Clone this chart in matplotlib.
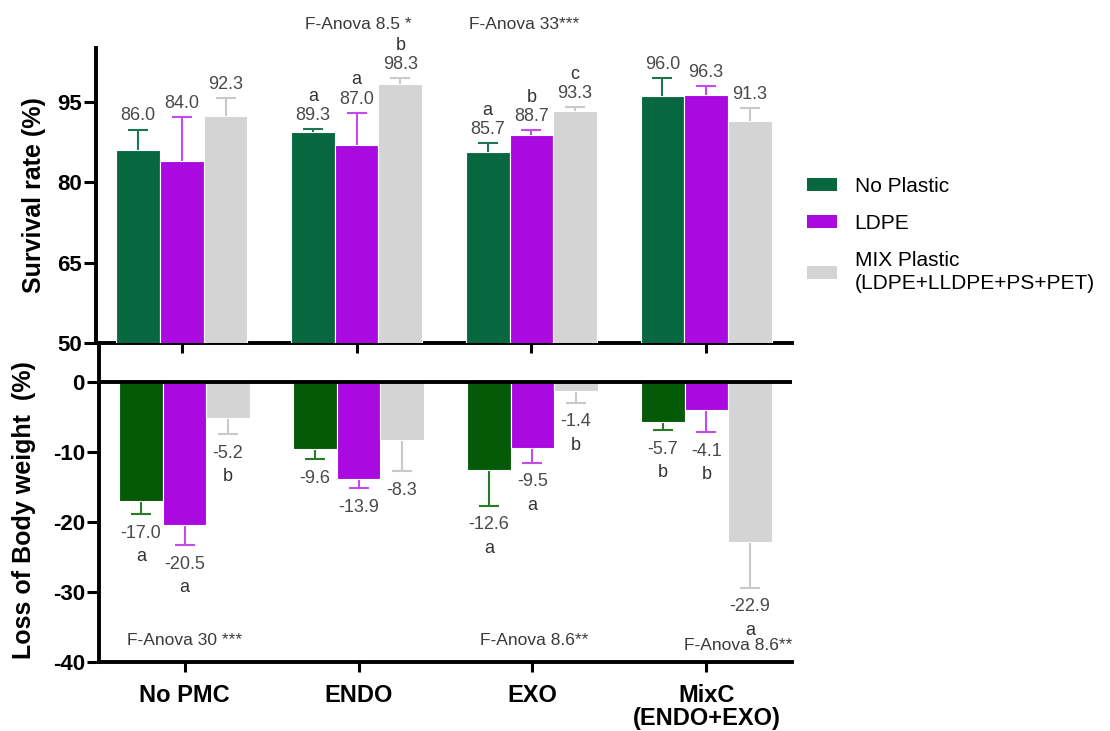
import numpy as np
import matplotlib
matplotlib.use("Agg")
import matplotlib.pyplot as plt
from matplotlib.patches import Patch

plt.rcParams['font.family'] = ['Liberation Sans', 'DejaVu Sans']
plt.rcParams['axes.unicode_minus'] = False

# ---- data -------------------------------------------------------------
categories = ['No PMC', 'ENDO', 'EXO', 'MixC\n(ENDO+EXO)']
series_names = ['No Plastic', 'LDPE', 'MIX Plastic\n(LDPE+LLDPE+PS+PET)']

survival_no_plastic = [86.0, 89.3, 85.7, 96.0]
survival_ldpe = [84.0, 87.0, 88.7, 96.3]
survival_mix = [92.3, 98.3, 93.3, 91.3]
survival_err_no_plastic = [3.8, 0.6, 1.5, 3.4]
survival_err_ldpe = [8.1, 5.9, 1.0, 1.6]
survival_err_mix = [3.4, 1.1, 0.7, 2.5]
survival_letters_no_plastic = ['', 'a', 'a', '']
survival_letters_ldpe = ['', 'a', 'b', '']
survival_letters_mix = ['', 'b', 'c', '']

weight_no_plastic = [-17.0, -9.6, -12.6, -5.7]
weight_ldpe = [-20.5, -13.9, -9.5, -4.1]
weight_mix = [-5.2, -8.3, -1.4, -22.9]
weight_err_no_plastic = [1.9, 1.5, 5.1, 1.2]
weight_err_ldpe = [2.8, 1.3, 2.1, 3.1]
weight_err_mix = [2.3, 4.5, 1.6, 6.5]
weight_letters_no_plastic = ['a', '', 'a', 'b']
weight_letters_ldpe = ['a', '', 'a', 'b']
weight_letters_mix = ['b', '', 'b', 'a']

survival_anova_pos = [1.01, 1.96]
survival_anova_y = [109.4, 109.4]
survival_anova_text = ['F-Anova 8.5 *', 'F-Anova 33***']
weight_anova_pos = [0.0, 2.01, 3.18]
weight_anova_y = [-36.9, -36.9, -37.6]
weight_anova_text = ['F-Anova 30 ***', 'F-Anova 8.6**', 'F-Anova 8.6**']

# ---- styling ----------------------------------------------------------
top_colors = ['#07683F', '#AA0AE0', '#D4D4D4']
bot_colors = ['#045A06', '#AA0AE0', '#D4D4D4']
top_err_colors = ['#1E7552', '#C24CF0', '#C9C9C9']
bot_err_colors = ['#2A7A2A', '#C24CF0', '#C9C9C9']
label_color = '#4A4A4A'
letter_color = '#333333'
W, H = 1110, 731


def fx(px):
    return px / W


def fy(py):
    return 1 - py / H


fig = plt.figure(figsize=(W / 100, H / 100), dpi=100)
ax_top = fig.add_axes([fx(96), fy(343), fx(792) - fx(96), fy(48) - fy(343)])
ax_bot = fig.add_axes([fx(99), fy(662), fx(792) - fx(99), fy(343) - fy(662)])

x = np.arange(len(categories))
width = 0.25
offsets = [-width, 0.0, width]


def draw_panel(ax, values, errs, letters, colors, ecolors, upward):
    for k, (vals, err, lets) in enumerate(zip(values, errs, letters)):
        xs = x + offsets[k]
        vals = np.array(vals)
        err = np.array(err)
        ax.bar(xs, vals, width=width, color=colors[k], edgecolor='white',
               linewidth=0.8, zorder=3)
        yerr = [np.zeros_like(err), err] if upward else [err, np.zeros_like(err)]
        eb = ax.errorbar(xs, vals, yerr=yerr, fmt='none', ecolor=ecolors[k],
                         elinewidth=1.5, capsize=7.5, capthick=1.5, zorder=2)
        for cl in eb[1]:
            if np.allclose(cl.get_ydata(), vals):
                cl.set_visible(False)
        ends = vals + err if upward else vals - err
        for xi, v, e, lt in zip(xs, vals, ends, lets):
            if upward:
                ax.annotate(f'{v:.1f}', xy=(xi, e), xytext=(0, 6.5),
                            textcoords='offset points', ha='center',
                            va='baseline', fontsize=13, color=label_color)
                if lt:
                    ax.annotate(lt, xy=(xi, e), xytext=(0, 20.5),
                                textcoords='offset points', ha='center',
                                va='baseline', fontsize=13, color=letter_color)
            else:
                ax.annotate(f'{v:.1f}', xy=(xi, e), xytext=(0, -17),
                            textcoords='offset points', ha='center',
                            va='baseline', fontsize=13, color=label_color)
                if lt:
                    ax.annotate(lt, xy=(xi, e), xytext=(0, -34),
                                textcoords='offset points', ha='center',
                                va='baseline', fontsize=13, color=letter_color)


draw_panel(ax_top,
           [survival_no_plastic, survival_ldpe, survival_mix],
           [survival_err_no_plastic, survival_err_ldpe, survival_err_mix],
           [survival_letters_no_plastic, survival_letters_ldpe, survival_letters_mix],
           top_colors, top_err_colors, upward=True)
draw_panel(ax_bot,
           [weight_no_plastic, weight_ldpe, weight_mix],
           [weight_err_no_plastic, weight_err_ldpe, weight_err_mix],
           [weight_letters_no_plastic, weight_letters_ldpe, weight_letters_mix],
           bot_colors, bot_err_colors, upward=False)

for xp, yp, t in zip(survival_anova_pos, survival_anova_y, survival_anova_text):
    ax_top.text(xp, yp, t, ha='center', va='center', fontsize=12.5,
                color='#3A3A3A', clip_on=False)
for xp, yp, t in zip(weight_anova_pos, weight_anova_y, weight_anova_text):
    ax_bot.text(xp, yp, t, ha='center', va='center', fontsize=12.5,
                color='#3A3A3A', clip_on=False)

# ---- axes -------------------------------------------------------------
spine_w = 2.8
for ax in (ax_top, ax_bot):
    ax.set_xlim(-0.492, 3.492)
    ax.spines['top'].set_visible(False)
    ax.spines['right'].set_visible(False)
    ax.spines['left'].set_linewidth(spine_w)
    ax.spines['bottom'].set_linewidth(spine_w)
    ax.set_xticks(x)
    ax.tick_params(axis='y', length=8.6, width=2.2, pad=1.5, labelsize=16)
    ax.tick_params(axis='x', length=7.5, width=2.2, pad=8, labelsize=17)
    ax.set_facecolor('none')

ax_top.set_ylim(50, 105)
ax_top.set_yticks([50, 65, 80, 95])
ax_top.tick_params(axis='x', labelbottom=False)
for lab in ax_top.get_yticklabels():
    lab.set_fontweight('bold')

ax_bot.set_ylim(-40, 5.5)
ax_bot.set_yticks([0, -10, -20, -30, -40])
ax_bot.axhline(0, color='black', linewidth=spine_w, zorder=4)
ax_bot.set_xticklabels(categories)
for lab in ax_bot.get_xticklabels():
    lab.set_fontweight('bold')
    lab.set_linespacing(1.05)
for lab in ax_bot.get_yticklabels():
    lab.set_fontweight('bold')

fig.text(fx(34), fy(195), 'Survival rate (%)', rotation=90, ha='center',
         va='center', fontsize=18, fontweight='bold')
fig.text(fx(24), fy(510), 'Loss of Body weight  (%)', rotation=90,
         ha='center', va='center', fontsize=18, fontweight='bold')

handles = [Patch(facecolor=c, edgecolor='none') for c in top_colors]
leg = fig.legend(handles, series_names, loc='upper left',
                 bbox_to_anchor=(fx(807), fy(177)), frameon=False, fontsize=15,
                 handlelength=1.44, handleheight=0.58, handletextpad=0.85,
                 labelspacing=0.86, borderaxespad=0, borderpad=0)
for t in leg.get_texts():
    t.set_linespacing(1.3)

fig.savefig('out.png', dpi=100)
